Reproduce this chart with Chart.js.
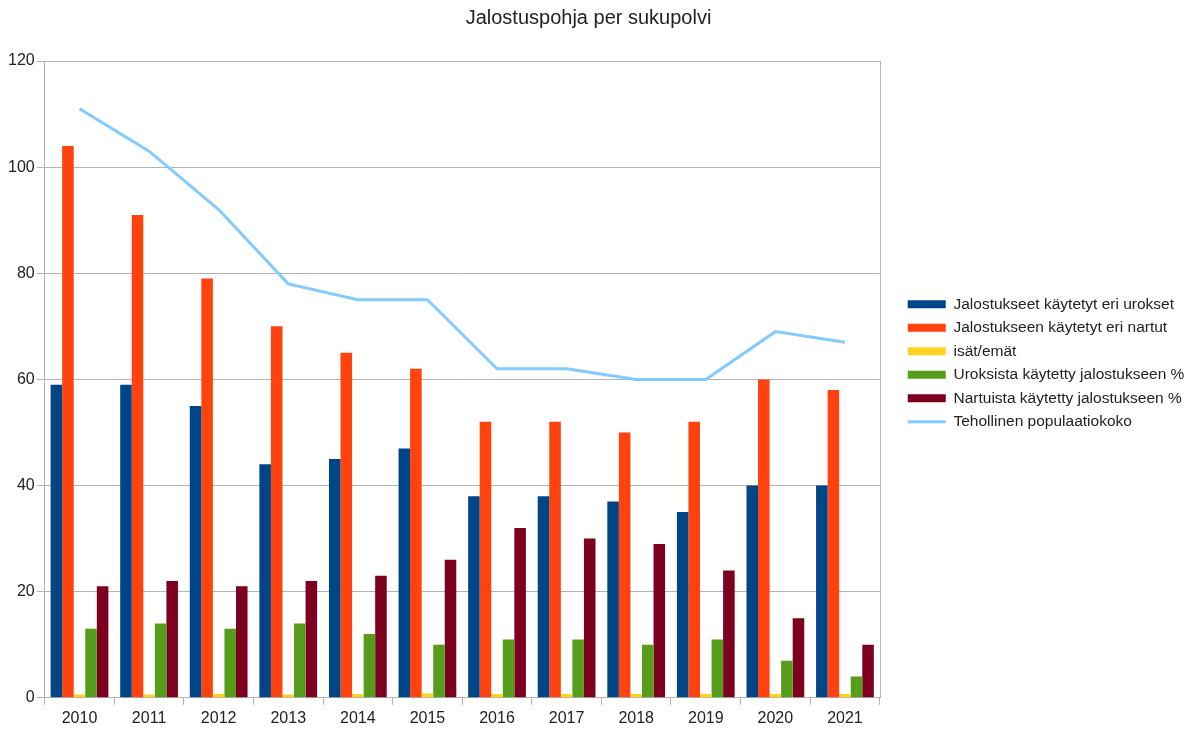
<!DOCTYPE html>
<html>
<head>
<meta charset="utf-8">
<script src="https://cdn.jsdelivr.net/npm/chart.js@4.4.1/dist/chart.umd.min.js"></script>
<style>
  html, body { margin: 0; padding: 0; background: #fff; }
  #wrap { width: 1193px; height: 729px; }
</style>
</head>
<body>
<div id="wrap"><canvas id="chart"></canvas></div>
<script>
// Vuodet
const years = ['2010', '2011', '2012', '2013', '2014', '2015', '2016', '2017', '2018', '2019', '2020', '2021'];

// Sarjat (luettu kuvasta)
const urokset = [59, 59, 55, 44, 45, 47, 38, 38, 37, 35, 40, 40];
const nartut = [104, 91, 79, 70, 65, 62, 52, 52, 50, 52, 60, 58];
const isatEmat = [0.6, 0.6, 0.7, 0.6, 0.7, 0.8, 0.7, 0.7, 0.7, 0.7, 0.7, 0.7];
const uroksistaPros = [13, 14, 13, 14, 12, 10, 11, 11, 10, 11, 7, 4];
const nartuistaPros = [21, 22, 21, 22, 23, 26, 32, 30, 29, 24, 15, 10];
const populaatiokoko = [111, 103, 92, 78, 75, 75, 62, 62, 60, 60, 69, 67];

const yTicks = [0, 20, 40, 60, 80, 100, 120];

const gridColor = '#b3b3b3';
const textColor = '#222';

Chart.defaults.font.family = '"Liberation Sans", Arial, sans-serif';
Chart.defaults.font.size = 16;
Chart.defaults.color = textColor;

function bar(label, data, color) {
  return {
    type: 'bar',
    label: label,
    data: data,
    backgroundColor: color,
    borderWidth: 0,
    categoryPercentage: 0.83,
    barPercentage: 1.0,
    order: 1
  };
}

// Selite hieman irti kuva-alueesta + oikea reunaviiva
const tweaks = {
  id: 'tweaks',
  afterLayout(chart) {
    const lg = chart.legend;
    lg.left += 20; lg.right += 20;
    lg.top -= 3; lg.bottom -= 3;
  },
  beforeDatasetsDraw(chart) {
    const a = chart.chartArea;
    const c = chart.ctx;
    c.save();
    c.strokeStyle = gridColor;
    c.lineWidth = 1;
    c.beginPath();
    c.moveTo(Math.round(a.right) + 0.5, a.top);
    c.lineTo(Math.round(a.right) + 0.5, a.bottom);
    c.stroke();
    c.restore();
  }
};

const ctx = document.getElementById('chart').getContext('2d');

new Chart(ctx, {
  type: 'bar',
  data: {
    labels: years,
    datasets: [
      bar('Jalostukseet käytetyt eri urokset', urokset, '#004586'),
      bar('Jalostukseen käytetyt eri nartut', nartut, '#ff420e'),
      bar('isät/emät', isatEmat, '#ffd320'),
      bar('Uroksista käytetty jalostukseen %', uroksistaPros, '#579d1c'),
      bar('Nartuista käytetty jalostukseen %', nartuistaPros, '#7e0021'),
      {
        type: 'line',
        label: 'Tehollinen populaatiokoko',
        data: populaatiokoko,
        borderColor: '#83caff',
        backgroundColor: '#83caff',
        borderWidth: 3,
        pointRadius: 0,
        tension: 0,
        order: 0
      }
    ]
  },
  plugins: [tweaks],
  options: {
    responsive: true,
    maintainAspectRatio: false,
    animation: false,
    layout: { padding: { left: 6, right: 22, top: 0, bottom: -3 } },
    plugins: {
      title: {
        display: true,
        text: 'Jalostuspohja per sukupolvi',
        font: { size: 20, weight: 'normal' },
        color: textColor,
        padding: { top: 6, bottom: 31 }
      },
      legend: {
        position: 'right',
        labels: {
          usePointStyle: true,
          pointStyleWidth: 38,
          boxHeight: 8,
          padding: 8,
          font: { size: 15.5 },
          color: textColor,
          sort: function (a, b) { return a.datasetIndex - b.datasetIndex; },
          generateLabels: function (chart) {
            const items = Chart.defaults.plugins.legend.labels.generateLabels(chart);
            items.forEach(function (it) {
              const ds = chart.data.datasets[it.datasetIndex];
              if (ds.type === 'line') {
                it.pointStyle = 'line';
                it.lineWidth = 3;
                it.strokeStyle = ds.borderColor;
              } else {
                it.pointStyle = 'rect';
                it.lineWidth = 0;
              }
            });
            return items;
          }
        }
      },
      tooltip: { enabled: false }
    },
    scales: {
      x: {
        grid: {
          offset: true,
          drawOnChartArea: false,
          drawTicks: true,
          tickLength: 7,
          color: gridColor
        },
        border: { color: gridColor },
        ticks: { padding: 4, color: textColor }
      },
      y: {
        min: 0,
        max: 120,
        afterBuildTicks: function (axis) {
          axis.ticks = yTicks.map(function (v) { return { value: v }; });
        },
        grid: { color: gridColor, tickLength: 8 },
        border: { color: gridColor },
        ticks: { padding: 2, color: textColor }
      }
    }
  }
});
</script>
</body>
</html>
